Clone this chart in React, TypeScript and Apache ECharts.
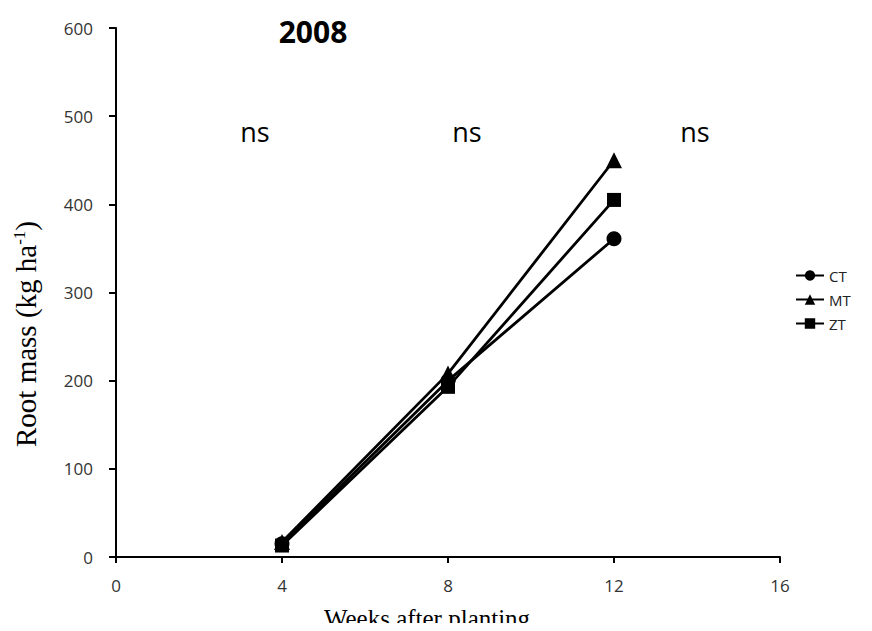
import React, { useEffect, useRef } from "react";
import * as echarts from "echarts";

const weeks = [4, 8, 12];
const ctValues = [15, 200, 361];
const mtValues = [17, 208, 450];
const ztValues = [13, 193, 405];
const xTicks = [0, 4, 8, 12, 16];
const nsLabels = ["ns", "ns", "ns"];

export default function App() {
  const ref = useRef<HTMLDivElement>(null);
  useEffect(() => {
    if (!ref.current) return;
    const chart = echarts.init(ref.current, null, { renderer: "svg" });
    const mk = (name: string, vals: number[], symbol: string, size: number) => ({
      name,
      type: "line",
      data: weeks.map((w, i) => [w, vals[i]]),
      symbol,
      symbolSize: size,
      lineStyle: { color: "#000", width: 2.8 },
      itemStyle: { color: "#000" },
      z: 3,
    });
    chart.setOption({
      animation: false,
      backgroundColor: "#fff",
      grid: { left: 116, right: 92, top: 28, bottom: 74 },
      legend: {
        orient: "vertical",
        left: 790,
        top: 263,
        itemWidth: 28,
        itemHeight: 13,
        itemGap: 9,
        textStyle: { fontFamily: "Open Sans", fontSize: 15, color: "#222" },
        data: ["CT", "MT", "ZT"],
      },
      xAxis: {
        type: "value",
        min: 0,
        max: 16,
        interval: 4,
        axisLine: { lineStyle: { color: "#000", width: 2 } },
        axisTick: { show: true, length: 6, lineStyle: { color: "#000", width: 2 } },
        axisLabel: {
          fontFamily: "Open Sans",
          fontSize: 17,
          color: "#333",
          margin: 20,
          formatter: (v: number) => (xTicks.includes(v) ? String(v) : ""),
        },
        splitLine: { show: false },
      },
      yAxis: {
        type: "value",
        min: 0,
        max: 600,
        interval: 100,
        axisLine: { show: true, lineStyle: { color: "#000", width: 2 } },
        axisTick: { show: true, length: 7, lineStyle: { color: "#000", width: 2 } },
        axisLabel: { fontFamily: "Open Sans", fontSize: 17, color: "#333", margin: 23 },
        splitLine: { show: false },
      },
      graphic: [
        {
          type: "text",
          x: 313,
          y: 31,
          style: {
            text: "2008",
            fontFamily: "Open Sans",
            fontWeight: "bold",
            fontSize: 30,
            fill: "#000",
            align: "center",
            verticalAlign: "middle",
          },
        },
        ...nsLabels.map((t, i) => ({
          type: "text",
          x: [255, 467, 695][i],
          y: 131,
          style: {
            text: t,
            fontFamily: "Open Sans",
            fontSize: 27,
            fill: "#000",
            align: "center",
            verticalAlign: "middle",
          },
        })),
        {
          type: "text",
          x: 427,
          y: 618,
          style: {
            text: "Weeks after planting",
            fontFamily: "Liberation Serif",
            fontSize: 25,
            fill: "#000",
            align: "center",
            verticalAlign: "middle",
          },
        },
        {
          type: "text",
          x: 26,
          y: 334,
          rotation: Math.PI / 2,
          style: {
            text: "{a|Root mass (kg ha}{b|-1}{a|)}",
            align: "center",
            verticalAlign: "middle",
            rich: {
              a: { fontFamily: "Liberation Serif", fontSize: 29, fill: "#000", color: "#000" },
              b: {
                fontFamily: "Liberation Serif",
                fontSize: 17,
                fill: "#000",
                color: "#000",
                padding: [0, 0, 14, 0],
              },
            },
          },
        },
      ],
      series: [
        mk("CT", ctValues, "circle", 15),
        mk("MT", mtValues, "triangle", 16),
        mk("ZT", ztValues, "rect", 14),
      ],
    });
    return () => chart.dispose();
  }, []);
  return <div ref={ref} style={{ width: 872, height: 631, margin: -8 }} />;
}
